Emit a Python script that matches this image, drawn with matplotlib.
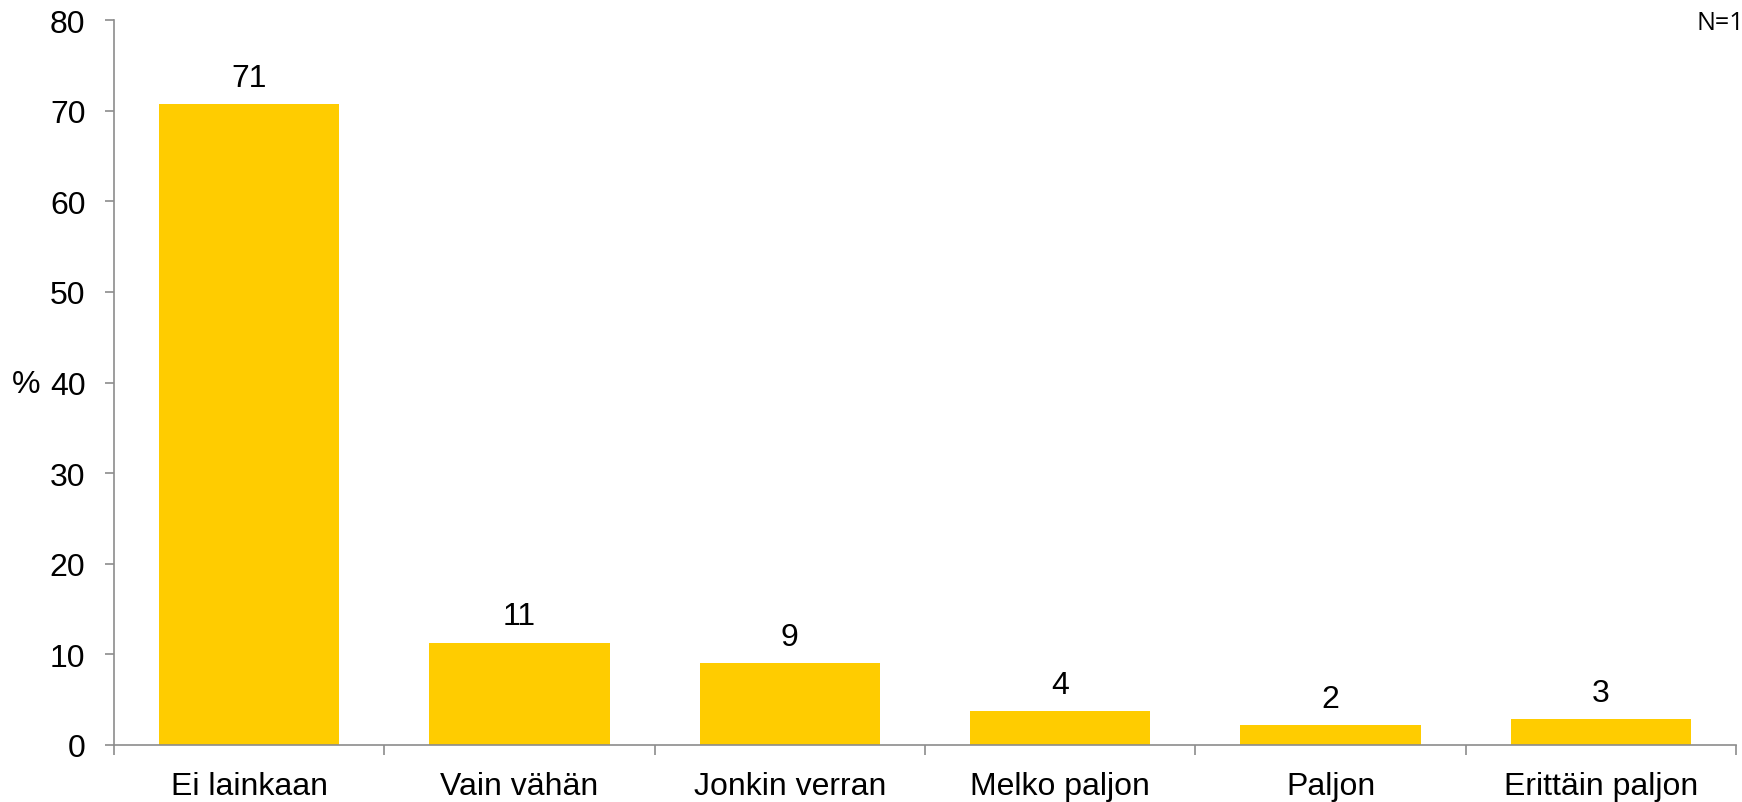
import matplotlib.pyplot as plt
import numpy as np

categories = ['Ei lainkaan', 'Vain vähän', 'Jonkin verran', 'Melko paljon', 'Paljon', 'Erittäin paljon']
values = [70.7, 11.3, 9.0, 3.7, 2.2, 2.9]
labels = ['71', '11', '9', '4', '2', '3']
yticks = [0, 10, 20, 30, 40, 50, 60, 70, 80]

plt.rcParams['font.family'] = ['Liberation Sans', 'DejaVu Sans']

fig = plt.figure(figsize=(17.42, 8.03), dpi=100)
ax = fig.add_axes([0.0654, 0.071, 0.9312, 0.9028])

x = np.arange(len(categories))
bars = ax.bar(x, values, width=0.667, color='#FFCC00', zorder=2)

for b, lab in zip(bars, labels):
    ax.annotate(lab, (b.get_x() + b.get_width() / 2, b.get_height()),
                xytext=(0, 8), textcoords='offset points',
                ha='center', va='bottom', fontsize=23)

ax.set_xlim(-0.5, len(categories) - 0.5)
ax.set_ylim(0, 80)
ax.set_yticks(yticks)
ax.tick_params(axis='y', labelsize=23, length=6.5, width=1.2, color='#8c8c8c', pad=14)

# major ticks between categories, labels at centres
ax.set_xticks(np.arange(-0.5, len(categories), 1.0))
ax.set_xticklabels([])
ax.set_xticks(x, minor=True)
ax.set_xticklabels(categories, minor=True)
ax.tick_params(axis='x', which='major', length=7, width=1.2, color='#8c8c8c')
ax.tick_params(axis='x', which='minor', length=0, labelsize=23, pad=19)

for s in ['top', 'right']:
    ax.spines[s].set_visible(False)
for s in ['left', 'bottom']:
    ax.spines[s].set_color('#8c8c8c')
    ax.spines[s].set_linewidth(1.2)

fig.text(12 / 1742, 1 - 385 / 803, '%', fontsize=23, va='center', ha='left')
fig.text(1696 / 1742, 1 - 23 / 803, 'N=1', fontsize=18, va='center', ha='left',
         family=['Open Sans', 'DejaVu Sans'])

fig.savefig('out.png', dpi=100)
